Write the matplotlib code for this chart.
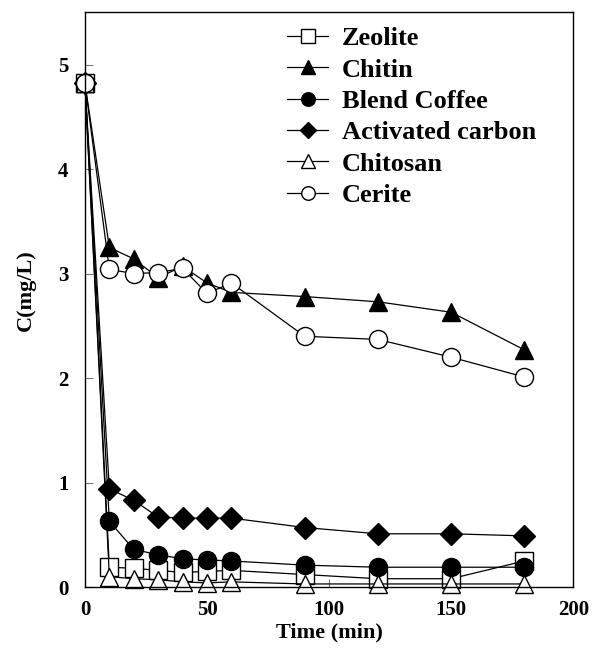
import matplotlib
matplotlib.use("Agg")
import matplotlib.pyplot as plt

plt.rcParams['font.family'] = ['Liberation Serif', 'DejaVu Serif']
plt.rcParams['font.weight'] = 'bold'

time = [0, 10, 20, 30, 40, 50, 60, 90, 120, 150, 180]
zeolite = [4.82, 0.19, 0.18, 0.16, 0.14, 0.15, 0.16, 0.12, 0.08, 0.08, 0.25]
chitin = [4.82, 3.25, 3.14, 2.96, 3.07, 2.91, 2.82, 2.78, 2.73, 2.63, 2.27]
blend_coffee = [4.82, 0.63, 0.36, 0.31, 0.27, 0.26, 0.25, 0.21, 0.19, 0.19, 0.19]
activated_carbon = [4.82, 0.94, 0.83, 0.67, 0.66, 0.66, 0.66, 0.57, 0.51, 0.51, 0.49]
chitosan = [4.82, 0.10, 0.08, 0.07, 0.05, 0.04, 0.05, 0.03, 0.03, 0.03, 0.03]
cerite = [4.82, 3.04, 3.00, 3.01, 3.05, 2.81, 2.91, 2.40, 2.37, 2.20, 2.01]

labels = ['Zeolite', 'Chitin', 'Blend Coffee', 'Activated carbon', 'Chitosan', 'Cerite']
series = [zeolite, chitin, blend_coffee, activated_carbon, chitosan, cerite]
markers = ['s', '^', 'o', 'D', '^', 'o']
faces = ['white', 'black', 'black', 'black', 'white', 'white']
sizes = [13, 13, 13, 11, 13, 13]

fig = plt.figure(figsize=(5.94, 6.48), dpi=100)
ax = fig.add_axes([0.143, 0.094, 0.822, 0.887])

for y, lab, m, fc, ms in zip(series, labels, markers, faces, sizes):
    ax.plot(time, y, color='black', linewidth=0.9, marker=m, markersize=ms,
            markerfacecolor=fc, markeredgecolor='black', markeredgewidth=1.0,
            label=lab, clip_on=False)

ax.set_xlim(0, 200)
ax.set_ylim(0, 5.5)
ax.set_xticks([0, 50, 100, 150, 200])
ax.set_yticks([0, 1, 2, 3, 4, 5])
ax.tick_params(direction='in', length=6, width=0.8, color='#777777',
               labelsize=15, pad=12)
ax.tick_params(axis='x', pad=9)
for lab in ax.get_xticklabels() + ax.get_yticklabels():
    lab.set_fontweight('bold')
for s in ax.spines.values():
    s.set_linewidth(1.0)

ax.set_xlabel('Time (min)', fontsize=16, fontweight='bold', labelpad=2)
ax.set_ylabel('C(mg/L)', fontsize=16, fontweight='bold')
ax.yaxis.set_label_coords(-0.10, 0.517)

leg = ax.legend(loc='upper left', bbox_to_anchor=(0.414, 0.975), frameon=False,
                prop={'family': 'Liberation Serif', 'weight': 'bold', 'size': 19},
                markerscale=0.75, handlelength=1.55, handletextpad=0.53,
                labelspacing=0.3, borderpad=0, borderaxespad=0)

fig.savefig('out.png', dpi=100)
